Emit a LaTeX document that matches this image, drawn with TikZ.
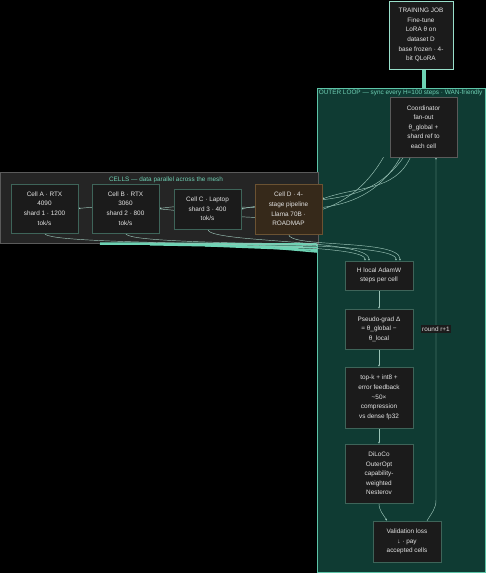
\documentclass[tikz,border=0pt]{standalone}
\usepackage{fontspec}
\setmainfont{Liberation Sans}
\usetikzlibrary{arrows.meta}
\definecolor{loopfill}{HTML}{0F3B33}
\definecolor{loopline}{HTML}{5EC4A8}
\definecolor{cellsfill}{HTML}{252525}
\definecolor{cellsline}{HTML}{5A5A5A}
\definecolor{nodefill}{HTML}{1B1B1B}
\definecolor{nodeline}{HTML}{3E6459}
\definecolor{roadfill}{HTML}{36291A}
\definecolor{roadline}{HTML}{6B5232}
\definecolor{edgecol}{HTML}{9CC4B8}
\definecolor{fg}{HTML}{E4E4E4}
\definecolor{titlecol}{HTML}{6FD0B4}
\definecolor{band}{HTML}{6DD3B4}
\pgfdeclarelayer{bg}\pgfdeclarelayer{edges}
\pgfsetlayers{bg,edges,main}
\tikzset{
  txt/.style={font=\fontsize{6.4}{9.6}\selectfont},
  box/.style={txt, draw=nodeline, fill=nodefill, text=fg, align=center, inner sep=1pt, minimum width=67},
  cluster/.style={draw=#1line, fill=#1fill, line width=0.8pt, inner sep=0pt},
  ctitle/.style={txt, text=titlecol, inner sep=1pt},
  edge/.style={draw=edgecol, line width=0.45pt, -{Latex[length=2pt,width=2pt]}},
  lbl/.style={txt, fill=nodefill, text=fg, inner sep=1.5pt},
}
\begin{document}
\begin{tikzpicture}[x=1pt,y=-1pt]
\useasboundingbox (0,0) rectangle (486,573);
\begin{pgfonlayer}{bg}
\fill[black] (0,0) rectangle (486,573);
\node[cluster=loop, minimum width=168, minimum height=484] (loop) at (401,330) {};
\node[cluster=cells, minimum width=318, minimum height=71] (cells) at (159,207.5) {};
\end{pgfonlayer}
\node[ctitle, anchor=west] at ([xshift=1,yshift=-5]loop.north west) {OUTER LOOP --- sync every H=100 steps · WAN-friendly};
\node[ctitle] at (166,179.5) {CELLS --- data parallel across the mesh};
% training job and outer loop
\node[box, draw=band!70!white, line width=0.8pt, minimum width=64, minimum height=68] (job) at (421,35)
  {TRAINING JOB\\Fine-tune\\LoRA θ on\\dataset D\\base frozen · 4-\\bit QLoRA};
\node[box, draw=cellsline, minimum height=60] (coord) at (423.5,127)
  {Coordinator\\fan-out\\θ\_global +\\shard ref to\\each cell};
% cells
\node[box, minimum height=49] (cellA) at (44.5,208.5) {Cell A · RTX\\4090\\shard 1 · 1200\\tok/s};
\node[box, minimum height=49] (cellB) at (125.5,208.5) {Cell B · RTX\\3060\\shard 2 · 800\\tok/s};
\node[box, minimum height=40] (cellC) at (207.5,209) {Cell C · Laptop\\shard 3 · 400\\tok/s};
\node[box, draw=roadline, fill=roadfill, minimum height=50] (cellD) at (288.5,209)
  {Cell D · 4-\\stage pipeline\\Llama 70B ·\\ROADMAP};
% inner steps
\node[box, minimum width=68, minimum height=29] (adamw) at (379,275.5) {H local AdamW\\steps per cell};
\node[box, minimum width=68, minimum height=40] (pgrad) at (379,329) {Pseudo-grad Δ\\= θ\_global −\\θ\_local};
\node[box, minimum width=68, minimum height=61] (comp) at (379,397.5)
  {top-k + int8 +\\error feedback\\\textasciitilde50×\\compression\\vs dense fp32};
\node[box, minimum width=68, minimum height=59] (outer) at (379,473.5)
  {DiLoCo\\OuterOpt\\capability-\\weighted\\Nesterov};
\node[box, minimum width=68, minimum height=41] (valid) at (407,541.5) {Validation loss\\↓ · pay\\accepted cells};
\coordinate (rb) at (436,500);
\node[lbl] at (rb |- pgrad) {round r+1};
\begin{pgfonlayer}{edges}
\draw[band, line width=4pt] ([xshift=2.5]job.south) -- ([xshift=2.5]job.south |- loop.north);
\draw[band, line width=2.5pt] (100,243.5) -- (317,244.5);
\draw[band, line width=2pt] (150,244.5) -- (317,247.5);
\draw[band, line width=2pt] (205,245.5) -- (317,250);
\draw[band, line width=1.5pt] (255,246.5) -- (317,252);
% fan-out
\draw[edge] ([xshift=-40]coord.south) to[out=-120,in=6] (cellA.east);
\draw[edge] ([xshift=-23]coord.south) to[out=-120,in=8] (cellB.east);
\draw[edge] ([xshift=-20]coord.south) to[out=-125,in=12] (cellC.east);
\draw[edge] ([xshift=-13]coord.south) to[out=-115,in=20] ([yshift=10]cellD.east);
% cells to local steps
\draw[edge] (cellA.south) .. controls +(0,14) and +(0,-22) .. ([xshift=-14]adamw.north);
\draw[edge] (cellC.south) .. controls +(0,14) and +(0,-22) .. ([xshift=-10]adamw.north);
\draw[edge] (cellB.south) .. controls +(0,14) and +(0,-22) .. ([xshift=17]adamw.north);
\draw[edge] (cellD.south) .. controls +(0,14) and +(0,-22) .. ([xshift=21]adamw.north);
% outer step chain
\draw[edge] (adamw) -- (pgrad);
\draw[edge] (pgrad) -- (comp);
\draw[edge] (comp) -- (outer);
\draw[edge] (outer.south) to[out=-90,in=120] ([xshift=-20]valid.north);
\draw[edge] ([xshift=20]valid.north) to[out=60,in=-90] (rb) -- (coord.south -| rb);
\end{pgfonlayer}
\end{tikzpicture}
\end{document}
